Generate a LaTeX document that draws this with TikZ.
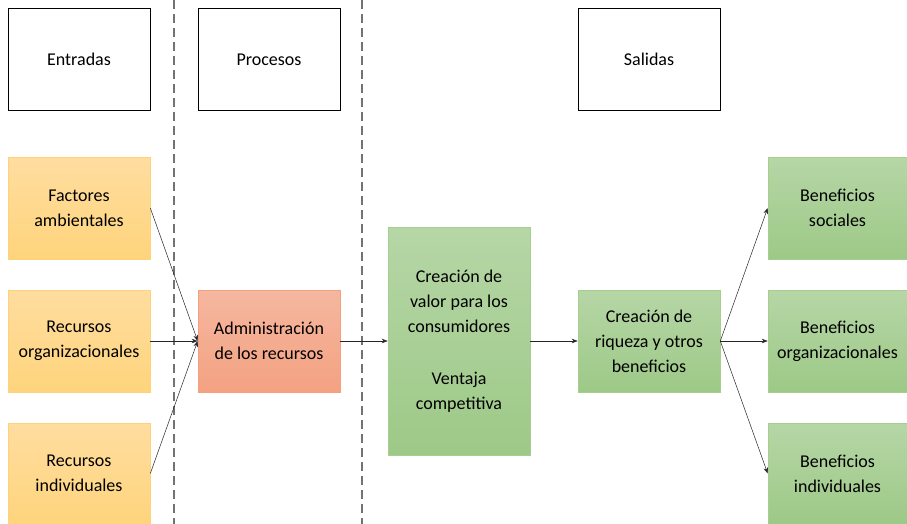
\documentclass[tikz,border=0pt]{standalone}
\usepackage{fontspec}
\setmainfont{Carlito}
\usetikzlibrary{arrows.meta}
\definecolor{ytop}{HTML}{FFDDA0}
\definecolor{ybot}{HTML}{FED47C}
\definecolor{yline}{HTML}{FFD27A}
\definecolor{otop}{HTML}{F5B7A0}
\definecolor{obot}{HTML}{F4A281}
\definecolor{oline}{HTML}{F2A07E}
\definecolor{gtop}{HTML}{B6D6A6}
\definecolor{gbot}{HTML}{9DC987}
\definecolor{gline}{HTML}{A5CF8F}
\tikzset{
  base/.style={rectangle, inner sep=0pt, align=center, font=\fontsize{18}{25}\selectfont, text=black, minimum width=142pt, minimum height=102pt},
  header/.style={base, draw=black, line width=0.8pt, fill=white},
  ybox/.style={base, draw=yline, line width=0.6pt, top color=ytop, bottom color=ybot},
  obox/.style={base, draw=oline, line width=0.6pt, top color=otop, bottom color=obot},
  gbox/.style={base, draw=gline, line width=0.6pt, top color=gtop, bottom color=gbot},
  conn/.style={line width=0.5pt, draw=black!85, -{Stealth[length=6pt,width=4.5pt]}},
  sep/.style={draw=black!55, line width=2pt, dash pattern=on 9pt off 5pt}
}
\begin{document}
\begin{tikzpicture}[x=1pt, y=-1pt]
\useasboundingbox (0,0) rectangle (907,524);
\fill[white] (0,0) rectangle (907,524);
\coordinate (s1t) at (174,0);
\coordinate (s1b) at (174,524);
\coordinate (s2t) at (362,0);
\coordinate (s2b) at (362,524);
\draw[sep] (s1t) -- (s1b);
\draw[sep] (s2t) -- (s2b);

\node[header] (ent) at (79,59.5) {Entradas};
\node[header] (pro) at (269,59.5) {Procesos};
\node[header] (sal) at (649,59.5) {Salidas};

\node[ybox] (fac) at (79,208) {Factores\\ambientales};
\node[ybox] (rorg) at (79,341) {Recursos\\organizacionales};
\node[ybox, minimum height=101pt] (rind) at (79,473.5) {Recursos\\individuales};

\node[obox] (adm) at (269,341) {Administración\\de los recursos};
\node[gbox, minimum height=228pt] (val) at (459,341) {Creación de\\valor para los\\consumidores\\[27pt]Ventaja\\competitiva};
\node[gbox] (riq) at (649,341) {Creación de\\riqueza y otros\\beneficios};

\node[gbox, minimum width=139pt] (bsoc) at (837.5,208) {Beneficios\\sociales};
\node[gbox, minimum width=139pt] (borg) at (837.5,341) {Beneficios\\organizacionales};
\node[gbox, minimum width=139pt, minimum height=101pt] (bind) at (837.5,473.5) {Beneficios\\individuales};

\draw[conn] (fac.east) -- (adm.west);
\draw[conn] (rorg.east) -- (adm.west);
\draw[conn] (rind.east) -- (adm.west);
\draw[conn] (adm.east) -- (val.west);
\draw[conn] (val.east) -- (riq.west);
\draw[conn] (riq.east) -- (bsoc.west);
\draw[conn] (riq.east) -- (borg.west);
\draw[conn] (riq.east) -- (bind.west);
\end{tikzpicture}
\end{document}
